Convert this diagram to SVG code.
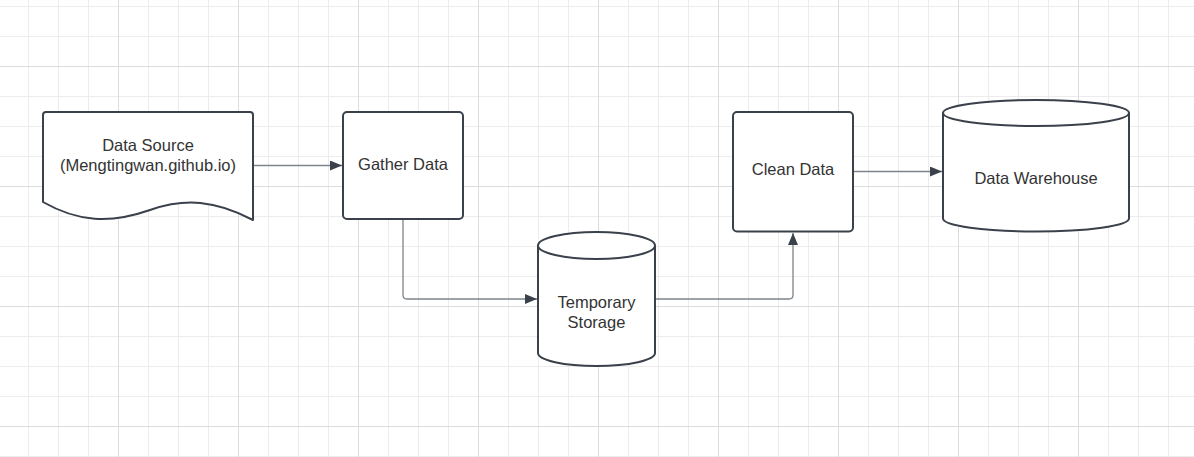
<svg xmlns="http://www.w3.org/2000/svg" width="1194" height="457" viewBox="0 0 1194 457">
  <style>
    .node { fill: #ffffff; stroke: #3a414a; stroke-width: 2; stroke-linejoin: round; }
    .label { font-family: "Liberation Sans", Arial, sans-serif; font-size: 16.5px; fill: #333333; text-anchor: middle; }
    .conn { fill: none; stroke: #7d848b; stroke-width: 1.3; }
  </style>
  <defs>
    <pattern id="minor" width="30" height="30" patternUnits="userSpaceOnUse" x="28" y="6">
      <path d="M0.5,0 V30 M0,0.5 H30" stroke="#ececec" stroke-width="1" fill="none"/>
    </pattern>
    <pattern id="major" width="120" height="120" patternUnits="userSpaceOnUse" x="118" y="66">
      <path d="M0.5,0 V120 M0,0.5 H120" stroke="#dcdcdc" stroke-width="1" fill="none"/>
    </pattern>
    <marker id="arrow" markerUnits="userSpaceOnUse" markerWidth="14" markerHeight="12" refX="12" refY="5" orient="auto">
      <path d="M0,0 L12,5 L0,10 Z" fill="#3a414a"/>
    </marker>
  </defs>
  <rect width="1194" height="457" fill="#ffffff"/>
  <rect width="1194" height="457" fill="url(#minor)"/>
  <rect width="1194" height="457" fill="url(#major)"/>

  <g id="connectors">
    <path class="conn" d="M253,165.5 H342" marker-end="url(#arrow)"/>
    <path class="conn" d="M403,220 V295 Q403,299 407,299 H537" marker-end="url(#arrow)"/>
    <path class="conn" d="M656,299 H789 Q793,299 793,295 V233" marker-end="url(#arrow)"/>
    <path class="conn" d="M854,171.5 H942" marker-end="url(#arrow)"/>
  </g>

  <g id="data-source">
    <path class="node" d="M43,202 V115 Q43,112 46,112 H250 Q253,112 253,115 V220 C215,200 185,198 150,210 C110,224 78,222 43,202 Z"/>
    <text class="label" x="148" y="150.5">Data Source</text>
    <text class="label" x="148" y="170.5">(Mengtingwan.github.io)</text>
  </g>

  <g id="gather-data">
    <rect class="node" x="343" y="112" width="120" height="107" rx="4"/>
    <text class="label" x="403" y="169.5">Gather Data</text>
  </g>

  <g id="temporary-storage">
    <path class="node" d="M538,245.5 V353 A58.5,13 0 0 0 655,353 V245.5"/>
    <ellipse class="node" cx="596.5" cy="245.5" rx="58.5" ry="13.5"/>
    <text class="label" x="596.5" y="308">Temporary</text>
    <text class="label" x="596.5" y="328">Storage</text>
  </g>

  <g id="clean-data">
    <rect class="node" x="733" y="112" width="120" height="119.5" rx="4"/>
    <text class="label" x="793" y="175">Clean Data</text>
  </g>

  <g id="data-warehouse">
    <path class="node" d="M943,113 V218.5 A93,13 0 0 0 1129,218.5 V113"/>
    <ellipse class="node" cx="1036" cy="113" rx="93" ry="13"/>
    <text class="label" x="1036" y="184">Data Warehouse</text>
  </g>
</svg>
